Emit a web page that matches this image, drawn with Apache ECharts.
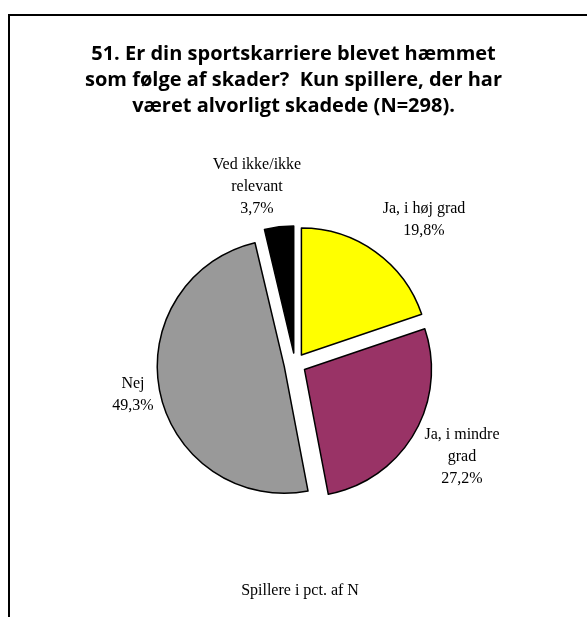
<!DOCTYPE html>
<html>
<head>
<meta charset="utf-8">
<script src="https://cdn.jsdelivr.net/npm/echarts@6/dist/echarts.min.js"></script>
<style>
html,body{margin:0;padding:0;background:#fff;}
#chart{width:587px;height:617px;}
</style>
</head>
<body>
<div id="chart"></div>
<script>
// Data
const categories = ['Ja, i høj grad', 'Ja, i mindre grad', 'Nej', 'Ved ikke/ikke relevant'];
const labelTexts = ['Ja, i høj grad\n19,8%', 'Ja, i mindre\ngrad\n27,2%', 'Nej\n49,3%', 'Ved ikke/ikke\nrelevant\n3,7%'];
const values = [19.8, 27.2, 49.3, 3.7];
const colors = ['#FFFF00', '#993366', '#999999', '#000000'];
const titleText = '51. Er din sportskarriere blevet hæmmet\nsom følge af skader?  Kun spillere, der har\nværet alvorligt skadede (N=298).';
const footerText = 'Spillere i pct. af N';

// label anchor positions (layout only, block centres)
const labelPos = [[424, 220], [462, 457], [133, 395], [257, 187]];

const chart = echarts.init(document.getElementById('chart'), null, {renderer: 'canvas'});

const labelGraphics = labelTexts.map((t, i) => ({
  type: 'text',
  silent: true,
  style: {
    x: labelPos[i][0],
    y: labelPos[i][1],
    text: t,
    align: 'center',
    verticalAlign: 'middle',
    fontFamily: 'Liberation Serif',
    fontSize: 16,
    lineHeight: 22,
    fill: '#000'
  }
}));

const option = {
  backgroundColor: '#ffffff',
  animation: false,
  title: [{
    text: titleText,
    left: 'center',
    top: 36,
    textStyle: {
      fontFamily: 'Open Sans',
      fontWeight: 'bold',
      fontSize: 20,
      lineHeight: 26,
      color: '#000'
    }
  }],
  graphic: [{
    type: 'polyline',
    shape: {points: [[9, 617], [9, 15], [587, 15]]},
    style: {stroke: '#000', lineWidth: 2, fill: null},
    silent: true
  }, {
    type: 'text',
    silent: true,
    style: {
      x: 300,
      y: 591,
      text: footerText,
      align: 'center',
      verticalAlign: 'middle',
      fontFamily: 'Liberation Serif',
      fontSize: 16,
      fill: '#000'
    }
  }].concat(labelGraphics),
  series: [{
    type: 'pie',
    center: [295, 364],
    radius: 127,
    startAngle: 90,
    clockwise: true,
    selectedMode: 'multiple',
    selectedOffset: 11,
    emphasis: {disabled: true, scale: false},
    select: {itemStyle: {borderColor: '#000', borderWidth: 1.5}},
    itemStyle: {borderColor: '#000', borderWidth: 1.5},
    label: {show: false},
    labelLine: {show: false},
    data: categories.map((c, i) => ({
      name: c,
      value: values[i],
      selected: true,
      itemStyle: {color: colors[i]}
    }))
  }]
};
chart.setOption(option);
</script>
</body>
</html>
